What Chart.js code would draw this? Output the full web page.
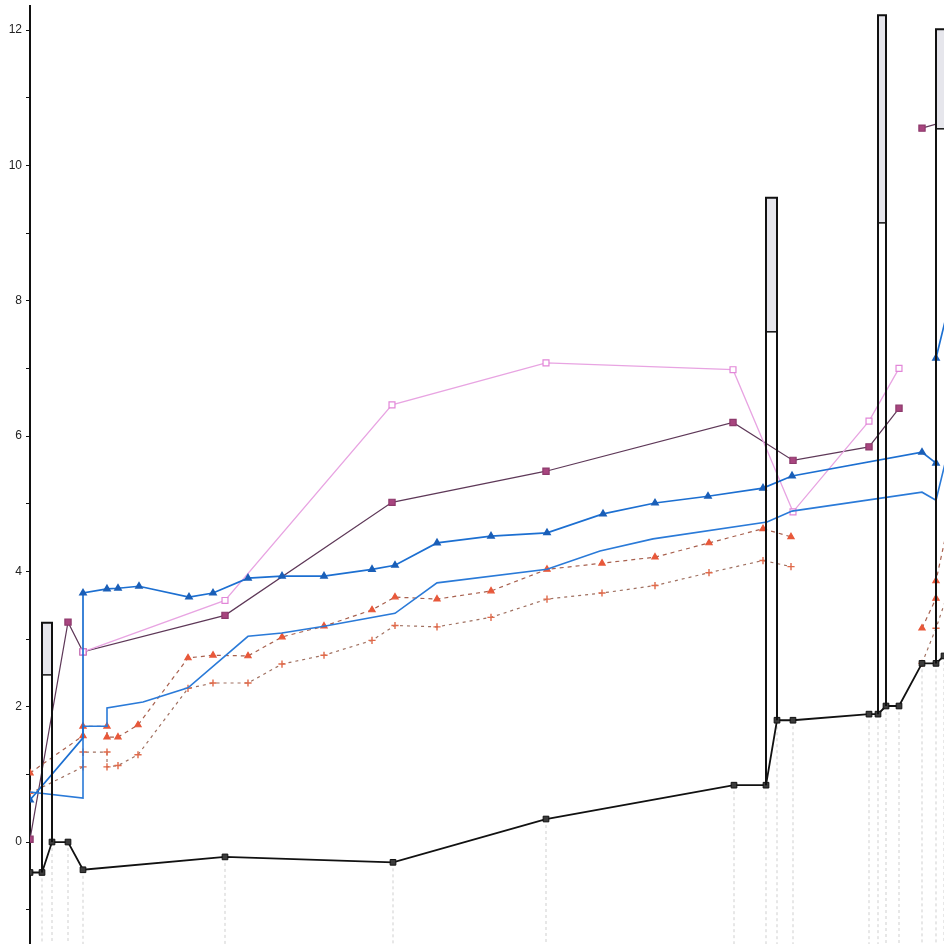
<!DOCTYPE html>
<html>
<head>
<meta charset="utf-8">
<script src="https://cdn.jsdelivr.net/npm/chart.js@4.4.0/dist/chart.umd.min.js"></script>
<style>
  html, body { margin: 0; padding: 0; background: #fff; overflow: hidden; }
  #wrap { position: absolute; left: 0; top: 0; width: 944px; height: 944px; }
  canvas { display: block; }
</style>
</head>
<body>
<div id="wrap"><canvas id="chart"></canvas></div>
<script>
// values (x in arbitrary units along the horizontal axis)
const blackX = [0, 12, 22, 38, 53, 195, 363, 516, 704, 736, 747, 763, 839, 848, 856, 869, 892, 906, 914];
const blackY = [-0.45, -0.45, 0, 0, -0.41, -0.22, -0.30, 0.34, 0.84, 0.84, 1.80, 1.80, 1.89, 1.89, 2.01, 2.01, 2.64, 2.64, 2.75];

const blueAX = [0, 53, 53, 77, 88, 109, 159, 183, 218, 252, 294, 342, 365, 407, 461, 517, 573, 625, 678, 733, 762, 892, 906, 906, 930];
const blueAY = [0.62, 1.54, 3.68, 3.74, 3.75, 3.78, 3.62, 3.68, 3.90, 3.93, 3.93, 4.03, 4.09, 4.42, 4.52, 4.57, 4.85, 5.01, 5.11, 5.23, 5.41, 5.76, 5.60, 7.15, 8.6];

const blueBX = [0, 53, 53, 77, 77, 113, 158, 218, 252, 294, 365, 407, 517, 570, 623, 737, 762, 892, 906, 930];
const blueBY = [0.74, 0.65, 1.71, 1.71, 1.98, 2.07, 2.28, 3.04, 3.09, 3.19, 3.38, 3.83, 4.03, 4.30, 4.48, 4.73, 4.89, 5.17, 5.05, 6.5];

const pinkX = [53, 195, 362, 516, 703, 763, 839, 869];
const pinkY = [2.81, 3.57, 6.46, 7.08, 6.98, 4.88, 6.22, 7.00];

const purpleX = [0, 38, 53, 195, 362, 516, 703, 763, 839, 869, 880, 892, 920];
const purpleY = [0.04, 3.25, 2.81, 3.35, 5.02, 5.48, 6.20, 5.64, 5.84, 6.41, null, 10.55, 10.67];

const redX = [0, 53, 53, 77, 77, 88, 108, 158, 183, 218, 252, 294, 342, 365, 407, 461, 517, 572, 625, 679, 733, 761, 840, 892, 906, 906, 930];
const redY = [1.02, 1.57, 1.71, 1.71, 1.55, 1.55, 1.73, 2.72, 2.76, 2.75, 3.03, 3.19, 3.43, 3.62, 3.59, 3.71, 4.03, 4.12, 4.21, 4.42, 4.63, 4.51, null, 3.16, 3.60, 3.86, 5.5];

const plusX = [0, 53, 53, 77, 77, 88, 108, 158, 183, 218, 252, 294, 342, 365, 407, 461, 517, 572, 625, 679, 733, 761, 840, 892, 906, 930];
const plusY = [0.72, 1.11, 1.33, 1.33, 1.11, 1.13, 1.29, 2.27, 2.35, 2.35, 2.63, 2.76, 2.98, 3.20, 3.18, 3.32, 3.59, 3.68, 3.79, 3.98, 4.16, 4.07, null, 2.64, 3.16, 4.2];

// tall boxes: left/right x, top, shaded-part bottom, foot of each side
const boxLeft  = [12, 736, 848, 906];
const boxRight = [22, 747, 856, 917];
const boxTop   = [3.24, 9.52, 12.22, 12.01];
const boxMid   = [2.47, 7.54, 9.15, 10.54];
const boxFootL = [-0.45, 0.84, 1.89, 2.64];
const boxFootR = [0, 1.80, 2.01, 2.75];

const yTickLabels = [0, 2, 4, 6, 8, 10, 12];

function pts(xs, ys) {
    return xs.map((x, i) => ({ x: x, y: ys[i] }));
}

const datasets = [];

// boxes first so their outlines sit on top
boxLeft.forEach((xl, i) => {
    const xr = boxRight[i];
    datasets.push({
        data: [{ x: xl, y: boxFootL[i] }, { x: xl, y: boxTop[i] }, { x: xr, y: boxTop[i] }, { x: xr, y: boxFootR[i] }],
        borderColor: '#111', borderWidth: 2, pointRadius: 0, fill: false
    });
    datasets.push({
        data: [{ x: xl, y: boxMid[i] }, { x: xr, y: boxMid[i] }],
        borderColor: '#111', borderWidth: 1.5, pointRadius: 0, fill: false
    });
    datasets.push({
        data: [{ x: xl, y: boxTop[i] }, { x: xr, y: boxTop[i] }],
        borderWidth: 0, pointRadius: 0,
        backgroundColor: '#e6e6ec', fill: { value: boxMid[i] }
    });
});

const blackIndex = datasets.length;
datasets.push({
    label: 'black',
    data: pts(blackX, blackY),
    borderColor: '#111', borderWidth: 1.8,
    pointStyle: 'rect', pointRadius: 4,
    pointBackgroundColor: '#3b3b3b', pointBorderColor: '#111', pointBorderWidth: 1
});
datasets.push({
    label: 'blue A',
    data: pts(blueAX, blueAY),
    borderColor: '#1c6fd1', borderWidth: 1.7,
    pointStyle: 'triangle', pointRadius: blueAX.map((x, i) => i === 1 ? 0 : 3.4),
    pointBackgroundColor: '#1a5fb8', pointBorderColor: '#1a5fb8'
});
datasets.push({
    label: 'blue B',
    data: pts(blueBX, blueBY),
    borderColor: '#2a7ad8', borderWidth: 1.6, pointRadius: 0
});
datasets.push({
    label: 'red',
    data: pts(redX, redY),
    borderColor: '#a8604e', borderWidth: 1.2, borderDash: [4, 4],
    pointStyle: 'triangle', pointRadius: 3.6,
    pointBackgroundColor: '#e8583a', pointBorderColor: '#e8583a'
});
datasets.push({
    label: 'plus',
    data: pts(plusX, plusY),
    borderColor: '#a07060', borderWidth: 1.2, borderDash: [3, 4],
    pointStyle: 'cross', pointRadius: 3.6,
    pointBorderColor: '#e06a4a', pointBorderWidth: 1.4
});
datasets.push({
    label: 'pink',
    data: pts(pinkX, pinkY),
    borderColor: '#e8a4e2', borderWidth: 1.3,
    pointStyle: 'rect', pointRadius: 4.2,
    pointBackgroundColor: '#fff', pointBorderColor: '#e286d8', pointBorderWidth: 1.2
});
datasets.push({
    label: 'purple',
    data: pts(purpleX, purpleY),
    borderColor: '#5e3858', borderWidth: 1.2,
    pointStyle: 'rect', pointRadius: 4.4,
    pointBackgroundColor: '#a8457f', pointBorderColor: '#8d3a6c'
});

// faint dashed drop lines under the black series
const dropLines = {
    id: 'dropLines',
    beforeDatasetsDraw(chart) {
        const ctx = chart.ctx;
        const meta = chart.getDatasetMeta(blackIndex);
        ctx.save();
        ctx.strokeStyle = '#cfcfcf';
        ctx.lineWidth = 1;
        ctx.setLineDash([3, 3]);
        meta.data.forEach((pt, i) => {
            if (i === 0) return;
            ctx.beginPath();
            ctx.moveTo(pt.x, pt.y);
            ctx.lineTo(pt.x, chart.chartArea.bottom);
            ctx.stroke();
        });
        ctx.restore();
    }
};

new Chart(document.getElementById('chart'), {
    type: 'line',
    data: { datasets: datasets },
    options: {
        responsive: true,
        maintainAspectRatio: false,
        animation: false,
        spanGaps: false,
        elements: { line: { tension: 0 } },
        layout: { autoPadding: false, padding: { top: 6, right: 0, bottom: 0, left: 0 } },
        plugins: {
            legend: { display: false },
            tooltip: { enabled: false }
        },
        scales: {
            x: {
                type: 'linear',
                min: 0,
                max: 914,
                display: false
            },
            y: {
                min: -1.507,
                max: 12.355,
                afterBuildTicks: function(scale) {
                    scale.ticks = scale.ticks.filter(t => Number.isInteger(t.value));
                },
                afterFit: function(scale) {
                    scale.width = 30;
                    scale.paddingTop = 0;
                    scale.paddingBottom = 0;
                },
                ticks: {
                    stepSize: 1,
                    padding: 4,
                    color: '#222',
                    font: { family: 'Liberation Sans', size: 12 },
                    callback: function(v) {
                        return yTickLabels.includes(v) ? String(v) : '';
                    }
                },
                grid: {
                    drawOnChartArea: false,
                    drawTicks: true,
                    tickLength: 4,
                    color: '#111'
                },
                border: { display: true, color: '#111', width: 2 }
            }
        }
    },
    plugins: [dropLines]
});
</script>
</body>
</html>
